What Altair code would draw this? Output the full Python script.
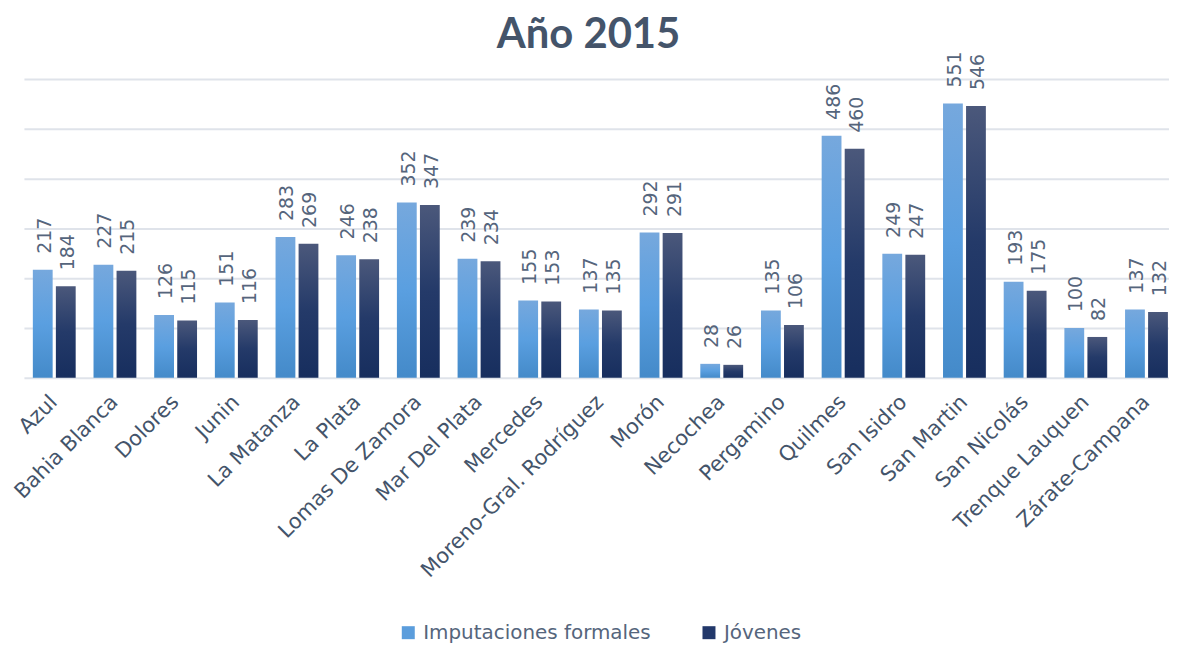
import altair as alt
import pandas as pd

categorias = ["Azul", "Bahia Blanca", "Dolores", "Junin", "La Matanza", "La Plata",
              "Lomas De Zamora", "Mar Del Plata", "Mercedes", "Moreno-Gral. Rodríguez",
              "Morón", "Necochea", "Pergamino", "Quilmes", "San Isidro", "San Martin",
              "San Nicolás", "Trenque Lauquen", "Zárate-Campana"]
imputaciones = [217, 227, 126, 151, 283, 246, 352, 239, 155, 137, 292, 28, 135, 486, 249, 551, 193, 100, 137]
jovenes = [184, 215, 115, 116, 269, 238, 347, 234, 153, 135, 291, 26, 106, 460, 247, 546, 175, 82, 132]
series = ["Imputaciones formales", "Jóvenes"]
y_ticks = [0, 100, 200, 300, 400, 500, 600]

df = pd.DataFrame({
    "cat": categorias * 2,
    "serie": [series[0]] * len(categorias) + [series[1]] * len(categorias),
    "valor": imputaciones + jovenes,
})

TEXT = "#44546a"
LABEL = "#55657c"

grad_light = alt.Gradient(
    gradient="linear", x1=0, y1=0, x2=0, y2=1,
    stops=[alt.GradientStop(offset=0, color="#76a8dd"),
           alt.GradientStop(offset=0.5, color="#5a9fe0"),
           alt.GradientStop(offset=1, color="#448ac9")])
grad_dark = alt.Gradient(
    gradient="linear", x1=0, y1=0, x2=0, y2=1,
    stops=[alt.GradientStop(offset=0, color="#4b587b"),
           alt.GradientStop(offset=0.5, color="#243a69"),
           alt.GradientStop(offset=1, color="#172e5e")])

x = alt.X("cat:N", sort=categorias, title=None,
          scale=alt.Scale(paddingInner=0.294, paddingOuter=0.0825, align=0.89),
          axis=alt.Axis(labelAngle=-45, labelAlign="right", labelBaseline="middle",
                        labelPadding=21, labelFontSize=21, labelFont="DejaVu Sans",
                        labelColor=TEXT, ticks=False, domain=False, grid=False,
                        labelOverlap=False, labelLimit=400))
xo = alt.XOffset("serie:N", sort=series,
                 scale=alt.Scale(domain=series, paddingInner=0.14, paddingOuter=0))
y = alt.Y("valor:Q", title=None,
          scale=alt.Scale(domain=[0, 600], nice=False),
          axis=alt.Axis(values=y_ticks, labels=False, ticks=False, domain=False,
                        grid=True, gridColor="#dfe3ea", gridWidth=2))

base = alt.Chart(df).encode(x=x, xOffset=xo, y=y)

legend_layer = base.mark_bar(opacity=0).encode(
    color=alt.Color("serie:N", sort=series,
                    scale=alt.Scale(domain=series, range=["#5b9ddc", "#22386a"]),
                    legend=alt.Legend(title=None, orient="none", direction="horizontal",
                                      legendX=376, legendY=546, padding=0,
                                      symbolType="square", symbolSize=170,
                                      symbolOpacity=1, symbolStrokeWidth=0,
                                      labelFontSize=20, labelFont="DejaVu Sans",
                                      labelColor=LABEL, labelOffset=5,
                                      columnPadding=48, labelLimit=400))
)

bars1 = base.transform_filter(alt.datum.serie == series[0]).mark_bar(color=grad_light)
bars2 = base.transform_filter(alt.datum.serie == series[1]).mark_bar(color=grad_dark)

labels = base.mark_text(angle=270, align="left", baseline="middle", dx=16, dy=2,
                        fontSize=19, font="DejaVu Sans", color=LABEL).encode(
    text=alt.Text("valor:Q"))

chart = alt.layer(legend_layer, bars1, bars2, labels).properties(
    width=1150, height=300,
    autosize="none",
    padding={"left": 16, "top": 70, "right": 0, "bottom": 268},
    title=alt.TitleParams("Año 2015", fontSize=42, font="Lato", fontWeight="bold",
                          color=TEXT, anchor="middle", frame="group",
                          offset=0, dy=6, dx=-8),
).configure_view(stroke=None)

chart.save("out.html", embed_options={"renderer": "svg", "actions": False})
